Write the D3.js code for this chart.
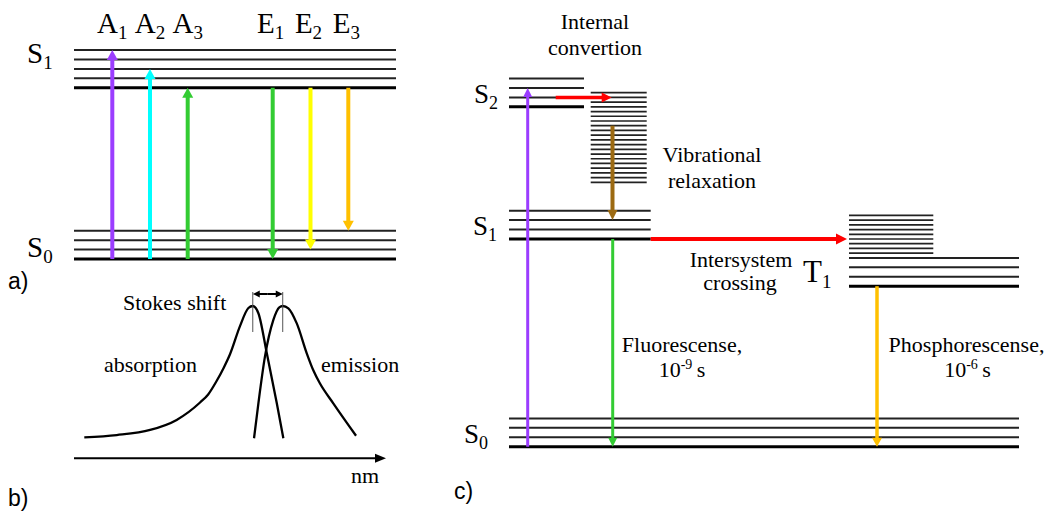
<!DOCTYPE html>
<html><head><meta charset="utf-8">
<script src="https://cdn.jsdelivr.net/npm/d3@7"></script>
<style>body{margin:0;background:#fff}svg{display:block}</style>
</head><body>
<script>
// ---------- Panel a : energy levels (vibrational quanta) ----------
const s0LevelsA = [0, 1, 2, 3];
const s1LevelsA = [18.2, 19.2, 20.2, 21.2, 22.2];
const absLabels = ["A1", "A2", "A3"];
const absTargets = [22.2, 20.2, 18.2];
const absColors = ["#9b3dff", "#00ffff", "#33cc33"];
const emLabels = ["E1", "E2", "E3"];
const emTargets = [0, 1, 3];
const emColors = ["#33cc33", "#ffff00", "#ffc000"];

// ---------- Panel b : spectra (wavelength %, normalised intensity) ----------
const absWl  = [3.3, 13.7, 24.4, 32.9, 40.4, 43.0, 45.7, 48.0, 50.0, 53.2, 55.9, 57.3, 59.1, 61.8, 65.0, 67.1];
const absInt = [0.02, 0.037, 0.075, 0.15, 0.28, 0.34, 0.44, 0.54, 0.64, 0.85, 0.985, 1.0, 0.946, 0.647, 0.274, 0.013];
const emWl   = [57.7, 59.1, 61.2, 63.9, 65.8, 66.9, 68.7, 71.4, 74.6, 76.7, 78.8, 83.1, 90.4];
const emInt  = [0.013, 0.274, 0.622, 0.896, 0.99, 1.0, 0.983, 0.87, 0.647, 0.52, 0.423, 0.274, 0.032];

// ---------- Panel c : Jablonski diagram ----------
const s0LevelsC = [0, 1, 2, 3];
const s1LevelsC = [22, 23, 24, 25];
const s2LevelsC = [36, 37, 38, 39];
const t1LevelsC = [17, 18, 19, 20];
const s1HotLevels = [28, 28.5, 29, 29.5, 30, 30.5, 31, 31.5, 32, 32.5, 33, 33.5, 34, 34.5, 35, 35.5, 36, 36.5, 37, 37.5];
const t1HotLevels = [20.5, 21, 21.5, 22, 22.5, 23, 23.5, 24, 24.5];

const W = 1053, H = 517;
const svg = d3.select("body").append("svg").attr("width", W).attr("height", H);
const SERIF = "Liberation Serif, Times New Roman, serif";
const SANS = "Liberation Sans, Arial, sans-serif";
const FS = 22;

function arrow(g, x1, y1, x2, y2, color, w, hl, hw) {
  const dx = x2 - x1, dy = y2 - y1, L = Math.hypot(dx, dy);
  const ux = dx / L, uy = dy / L, px = -uy, py = ux;
  const bx = x2 - ux * hl, by = y2 - uy * hl;
  g.append("line").attr("x1", x1).attr("y1", y1).attr("x2", bx + ux * 1).attr("y2", by + uy * 1)
    .attr("stroke", color).attr("stroke-width", w);
  g.append("path").attr("d", d3.line()([[x2, y2], [bx + px * hw / 2, by + py * hw / 2], [bx - px * hw / 2, by - py * hw / 2]]) + "Z")
    .attr("fill", color);
}
function subLabel(g, x, y, main, sub, size, subSize, anchor, subDy) {
  const t = g.append("text").attr("x", x).attr("y", y).attr("font-family", SERIF)
    .attr("font-size", size).attr("text-anchor", anchor || "start").attr("fill", "#000");
  t.append("tspan").text(main);
  t.append("tspan").attr("font-size", subSize).attr("dy", subDy || 6).text(sub);
  return t;
}
function levels(g, vals, y, x1, x2, thickVal, thin, thick) {
  g.selectAll(null).data(vals).enter().append("line")
    .attr("x1", x1).attr("x2", x2).attr("y1", d => y(d)).attr("y2", d => y(d))
    .attr("stroke", d => d === thickVal ? "#000" : "#222")
    .attr("stroke-width", d => d === thickVal ? thick : thin);
}

// ===== Panel a =====
const gA = svg.append("g");
const yA = d3.scaleLinear().domain([0, 18.2]).range([259, 87.7]);
const xAbs = d3.scalePoint().domain(absLabels).range([112.3, 187.7]);
const xEm = d3.scalePoint().domain(emLabels).range([272.7, 348.3]);
levels(gA, s1LevelsA, yA, 74, 396, 18.2, 2, 3);
levels(gA, s0LevelsA, yA, 74, 396, 0, 2, 3);
absLabels.forEach((l, i) => {
  arrow(gA, xAbs(l), yA(0), xAbs(l), yA(absTargets[i]), absColors[i], 4, 10, 11);
  subLabel(gA, xAbs(l), 33, l[0], l[1], 29, 19, "middle", 6);
});
emLabels.forEach((l, i) => {
  arrow(gA, xEm(l), yA(18.2), xEm(l), yA(emTargets[i]), emColors[i], 4, 10, 11);
  subLabel(gA, xEm(l) - 2, 33, l[0], l[1], 29, 19, "middle", 6);
});
subLabel(gA, 27, 63, "S", "1", 29, 19, "start", 6);
subLabel(gA, 27, 257, "S", "0", 29, 19, "start", 6);
gA.append("text").attr("x", 8).attr("y", 289).attr("font-family", SANS).attr("font-size", 23).text("a)");

// ===== Panel b =====
const gB = svg.append("g");
const xB = d3.scaleLinear().domain([0, 100]).range([74, 386]);
const yB = d3.scaleLinear().domain([0, 1]).range([440, 306]);
arrow(gB, xB(0), 458.3, xB(100), 458.3, "#000", 2, 11, 9);
const spec = d3.line().x(d => xB(d[0])).y(d => yB(d[1])).curve(d3.curveMonotoneX);
gB.append("path").attr("d", spec(d3.zip(absWl, absInt))).attr("fill", "none").attr("stroke", "#000").attr("stroke-width", 2.3);
gB.append("path").attr("d", spec(d3.zip(emWl, emInt))).attr("fill", "none").attr("stroke", "#000").attr("stroke-width", 2.3);
const pA = xB(absWl[d3.maxIndex(absInt)]), pE = xB(emWl[d3.maxIndex(emInt)]);
[pA, pE].forEach(x => gB.append("line").attr("x1", x).attr("x2", x).attr("y1", yB(1) - 14).attr("y2", yB(1) + 26)
  .attr("stroke", "#555").attr("stroke-width", 1));
arrow(gB, (pA + pE) / 2, 294, pE, 294, "#000", 2, 7, 7);
arrow(gB, (pA + pE) / 2, 294, pA, 294, "#000", 2, 7, 7);
const tb = (x, y, s, a) => gB.append("text").attr("x", x).attr("y", y).attr("font-family", SERIF).attr("font-size", FS)
  .attr("text-anchor", a || "start").text(s);
tb(123, 310, "Stokes shift");
tb(104, 372, "absorption");
tb(321, 372, "emission");
tb(351, 483, "nm");
gB.append("text").attr("x", 8).attr("y", 506).attr("font-family", SANS).attr("font-size", 23).text("b)");

// ===== Panel c =====
const gC = svg.append("g");
const yC = d3.scaleLinear().domain([0, 22]).range([446.7, 239]);
levels(gC, s2LevelsC, yC, 509, 584, 36, 2, 3);
levels(gC, s1HotLevels, yC, 590.7, 646.7, -1, 1.7, 1.7);
levels(gC, s1LevelsC, yC, 509, 650.7, 22, 2, 3);
levels(gC, t1HotLevels, yC, 849, 933.3, -1, 1.7, 1.7);
levels(gC, t1LevelsC, yC, 849, 1019, 17, 2, 3);
levels(gC, s0LevelsC, yC, 509, 1019, 0, 2, 3);

// absorption S0 -> S2
arrow(gC, 527.7, yC(0), 527.7, yC(38), "#9b3dff", 3, 9, 9);
// internal conversion
arrow(gC, 555.7, yC(37), 611.7, yC(37), "#ff0000", 3.5, 10, 10);
// vibrational relaxation
arrow(gC, 612.5, yC(34), 612.5, yC(24), "#9c6a12", 4, 10, 10);
// fluorescence
arrow(gC, 612.7, yC(22), 612.7, yC(0), "#33cc33", 3, 9, 9);
// intersystem crossing
arrow(gC, 650.7, yC(22), 847, yC(22), "#ff0000", 4, 11, 11);
// phosphorescence
arrow(gC, 877, yC(17), 877, yC(0), "#ffc000", 3.5, 9, 10);

const tc = (x, y, s, a) => gC.append("text").attr("x", x).attr("y", y).attr("font-family", SERIF).attr("font-size", FS)
  .attr("text-anchor", a || "start").text(s);
tc(595, 29, "Internal", "middle");
tc(595, 55, "convertion", "middle");
tc(712, 162, "Vibrational", "middle");
tc(712, 188, "relaxation", "middle");
tc(741, 266.7, "Intersystem", "middle");
tc(740, 290, "crossing", "middle");
tc(682, 351.7, "Fluorescense,", "middle");
tc(966.5, 351.7, "Phosphorescense,", "middle");
function expo(x, y, base, ex, unit) {
  const t = gC.append("text").attr("x", x).attr("y", y).attr("font-family", SERIF).attr("font-size", FS).attr("text-anchor", "middle");
  t.append("tspan").text(base);
  t.append("tspan").attr("font-size", 14).attr("dy", -8).text(ex);
  t.append("tspan").attr("dy", 8).text("\u2009" + unit);
}
expo(682, 376.7, "10", "-9", "s");
expo(967.5, 376.7, "10", "-6", "s");

subLabel(gC, 474, 103, "S", "2", 27, 18, "start", 6);
subLabel(gC, 473, 235, "S", "1", 27, 18, "start", 6);
subLabel(gC, 464, 443, "S", "0", 27, 18, "start", 6);
subLabel(gC, 803, 282, "T", "1", 31, 19, "start", 6);
gC.append("text").attr("x", 454).attr("y", 499).attr("font-family", SANS).attr("font-size", 23).text("c)");
</script>
</body></html>
